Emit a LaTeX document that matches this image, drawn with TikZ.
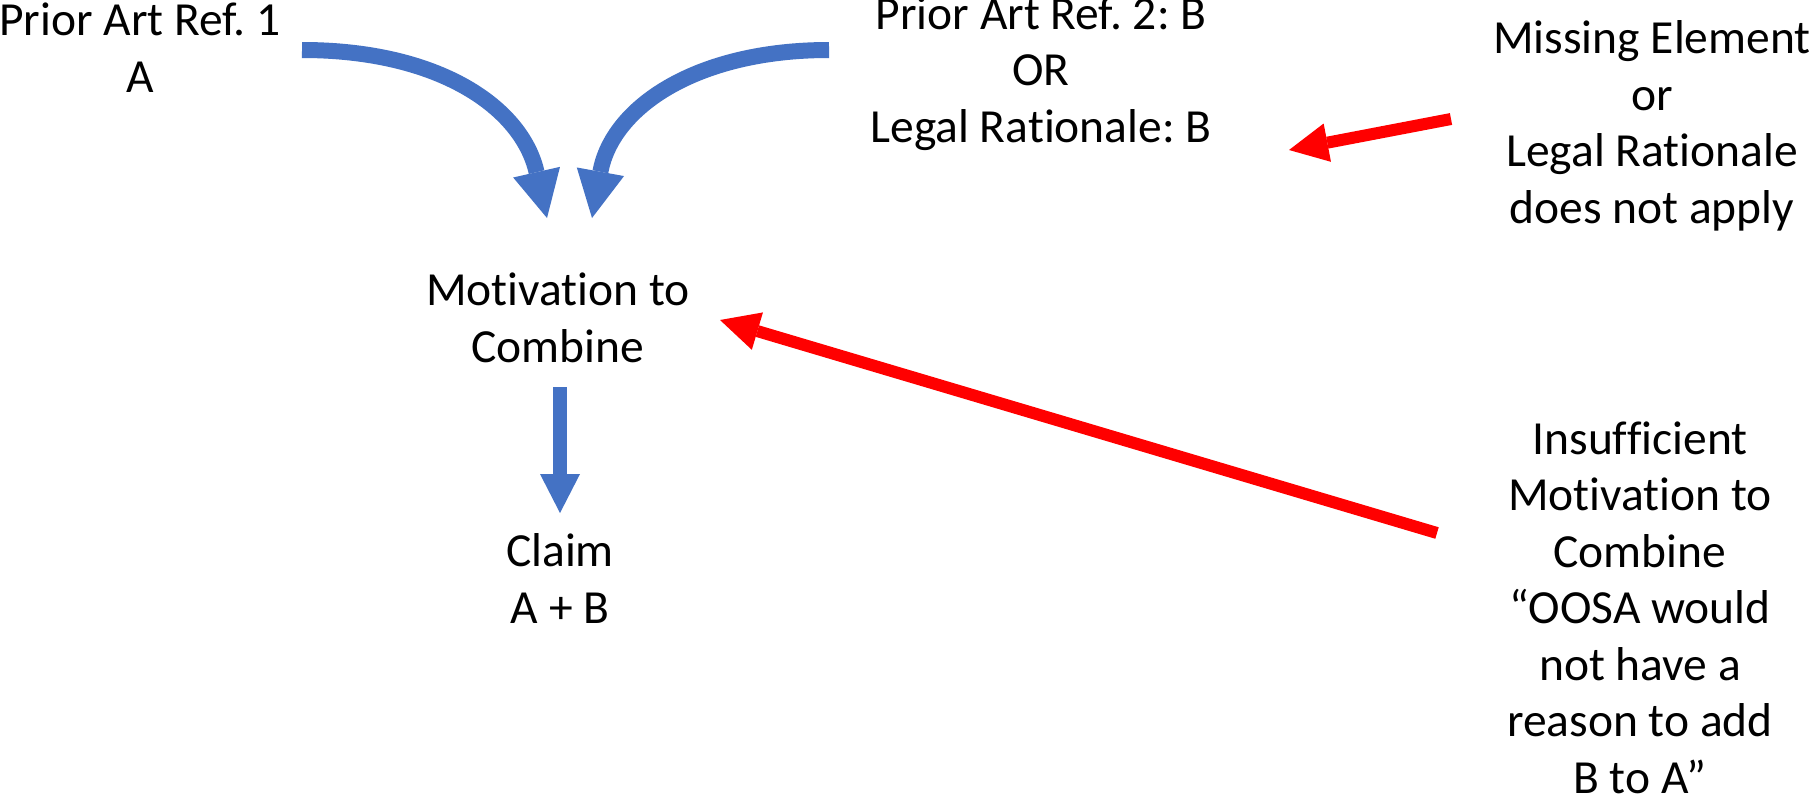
\documentclass[tikz,border=0pt]{standalone}
\usepackage{fontspec}
\setmainfont{Carlito}[Ligatures=NoCommon]
\usetikzlibrary{arrows.meta}
\frenchspacing
\definecolor{arrowblue}{HTML}{4472C4}
\definecolor{arrowred}{HTML}{FF0000}
\tikzset{
  lbl/.style={font=\fontsize{47.5}{56.5}\selectfont\frenchspacing, align=center, inner sep=0pt, anchor=base, text=black},
  bluecurve/.style={draw=arrowblue, line width=16pt, line cap=butt,
    -{Triangle[width=48pt,length=47pt,line width=0pt]}},
  bluestraight/.style={draw=arrowblue, line width=14pt, line cap=butt,
    -{Triangle[width=40pt,length=39pt,line width=0pt]}},
  redarrow/.style={draw=arrowred, line width=12pt, line cap=butt,
    -{Triangle[width=39pt,length=39pt,line width=0pt]}}
}
\begin{document}
\begin{tikzpicture}[x=1pt,y=-1pt]
\fill[white] (0,0) rectangle (1814,801);
\useasboundingbox (0,0) rectangle (1814,801);

% text nodes (anchor = baseline of the last line)
\node[lbl] (ref1) at (140,92) {Prior Art Ref. 1\\A};
\node[lbl] (ref2) at (1041,142) {Prior Art Ref. 2: B\\OR\\Legal Rationale: B};
\node[lbl] (motiv) at (558,362) {Motivation to\\Combine};
\node[lbl] (claim) at (560,623) {Claim\\A + B};
\node[lbl] (missing) at (1652,223) {Missing Element\\or\\Legal Rationale\\does not apply};
\node[lbl] (insuff) at (1640,793) {Insufficient\\Motivation to\\Combine\\“OOSA would\\not have a\\reason to add\\B to A”};

% connector end points
\coordinate (l1) at (302,50);
\coordinate (l2) at (547,218);
\coordinate (r1) at (829,50);
\coordinate (r2) at (592,218);
\coordinate (d1) at (560,387);
\coordinate (d2) at (560,513);
\coordinate (m1) at (1451,119);
\coordinate (m2) at (1289,150);
\coordinate (i1) at (1437,533);
\coordinate (i2) at (720,320);

% blue arrows
\draw[bluecurve] (l1) .. controls (440,50) and (522,108) .. (l2);
\draw[bluecurve] (r1) .. controls (695,50) and (612,108) .. (r2);
\draw[bluestraight] (d1) -- (d2);

% red arrows
\draw[redarrow] (m1) -- (m2);
\draw[redarrow] (i1) -- (i2);
\end{tikzpicture}
\end{document}
